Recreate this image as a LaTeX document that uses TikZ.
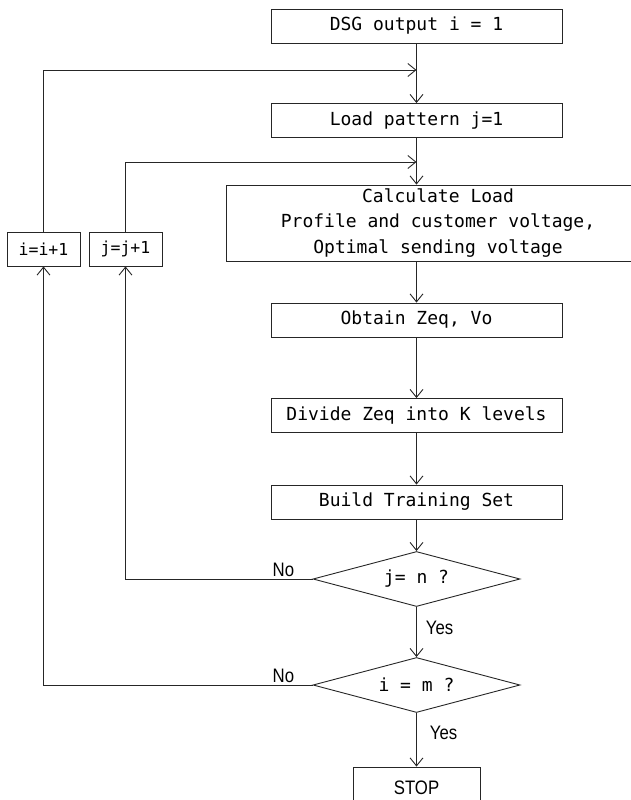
\documentclass[tikz,border=0pt]{standalone}
\usepackage{fontspec}
\setmonofont{DejaVu Sans Mono}
\newfontfamily\narrowfont[FakeStretch=0.86]{Liberation Sans}
\usepackage{tikz}
\usetikzlibrary{arrows.meta,shapes.geometric,positioning,calc}

\tikzset{
	box/.style={draw, rectangle, minimum width=291pt, minimum height=34pt, inner sep=0pt,
		font=\ttfamily\fontsize{18}{25.5}\selectfont, align=center},
	cond/.style={draw, diamond, aspect=3.76, minimum width=207pt, minimum height=55pt, inner sep=0pt,
		font=\ttfamily\fontsize{18}{20}\selectfont},
	incbox/.style={draw, rectangle, minimum width=73pt, minimum height=34pt, inner sep=0pt,
		font=\ttfamily\fontsize{16.5}{20}\selectfont},
	lbl/.style={font=\narrowfont\fontsize{19.5}{22}\selectfont, inner sep=2pt},
	arr/.style={-{Straight Barb[length=8pt,width=13pt]}},
}

\begin{document}
	\begin{tikzpicture}[x=1pt, y=-1pt, line width=0.9pt, draw=black!85]
		
		\useasboundingbox (0,0) rectangle (631,800);
		\clip (0,0) rectangle (631,800);
		
		\def\mx{416.5} % main column
		
		\node[box] (dsg) at (\mx,26) {DSG output i = 1};
		\node[box] (load) at (\mx,120.5) {Load pattern j=1};
		\node[box, minimum width=424pt, minimum height=76pt] (calc) at (438,223)
			{Calculate Load\\Profile and customer voltage,\\Optimal sending voltage};
		\node[box] (obtain) at (\mx,320) {Obtain Zeq, Vo};
		\node[box] (divide) at (\mx,415.5) {Divide Zeq into K levels};
		\node[box] (build) at (\mx,502) {Build Training Set};
		\node[cond] (jn) at (\mx,579) {j= n ?};
		\node[cond] (im) at (\mx,685) {i = m ?};
		\node[box, minimum width=127pt, minimum height=42pt, font=\narrowfont\fontsize{19.5}{22}\selectfont]
			(stop) at (\mx,788) {STOP};
		
		\node[incbox] (ii) at (43.5,249) {i=i+1};
		\node[incbox] (jj) at (125.5,249) {j=j+1};
		
		\coordinate (iin) at (\mx,70);
		\coordinate (jin) at (\mx,162);
		
		% main flow
		\draw[arr] (dsg) -- (load);
		\draw[arr] (load) -- (load |- calc.north);
		\draw[arr] (obtain |- calc.south) -- (obtain);
		\draw[arr] (obtain) -- (divide);
		\draw[arr] (divide) -- (build);
		\draw[arr] (build) -- (jn);
		\draw[arr] (jn) -- node[lbl, right=7pt, pos=0.42] {Yes} (im);
		\draw[arr] (im) -- node[lbl, right=11pt, pos=0.37] {Yes} (stop);
		
		% loops back
		\draw[arr] (jn.west) node[lbl, anchor=south east, xshift=-16pt] {No} -| (jj.south);
		\draw[arr] (jj.north) |- (jin);
		\draw[arr] (im.west) node[lbl, anchor=south east, xshift=-16pt] {No} -| (ii.south);
		\draw[arr] (ii.north) |- (iin);
	\end{tikzpicture}
\end{document}
